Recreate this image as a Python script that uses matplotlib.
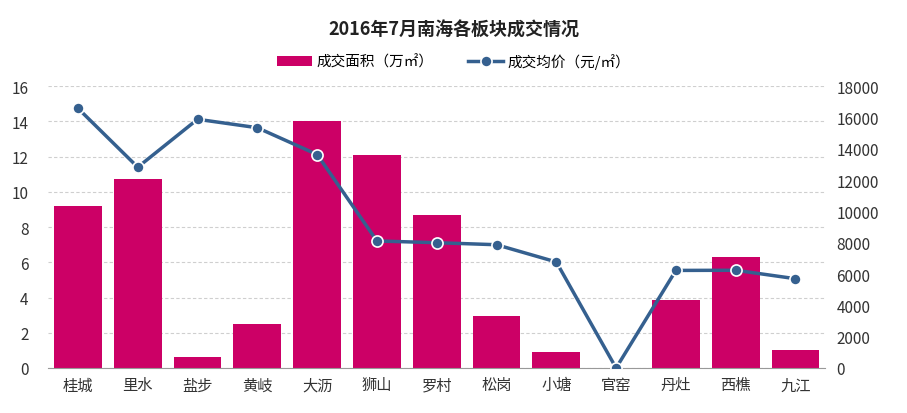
import matplotlib
matplotlib.use("Agg")
import matplotlib.pyplot as plt

plt.rcParams['font.family'] = ['Noto Sans CJK SC', 'DejaVu Sans']

districts = ["桂城", "里水", "盐步", "黄岐", "大沥", "狮山", "罗村", "松岗", "小塘", "官窑", "丹灶", "西樵", "九江"]
area = [9.2, 10.7, 0.6, 2.5, 14.0, 12.1, 8.7, 2.95, 0.9, 0, 3.85, 6.28, 1.0]
price = [16580, 12820, 15880, 15340, 13630, 8110, 8000, 7870, 6770, 0, 6230, 6240, 5700]

bar_color = "#CC0066"
line_color = "#35608F"
text_color = "#333333"

fig = plt.figure(figsize=(9.07, 4.14), dpi=100)
ax = fig.add_axes([0.053, 0.1087, 0.857, 0.681])
ax2 = ax.twinx()

x = list(range(len(districts)))
ax.bar(x, area, width=0.8, color=bar_color, label="成交面积（万㎡）", zorder=2)
ax2.plot(x, price, color=line_color, linewidth=2.5, marker="o", markersize=8,
         markerfacecolor=line_color, markeredgecolor="white", markeredgewidth=1.2,
         label="成交均价（元/㎡）", zorder=3)

ax.set_xlim(-0.5, len(districts) - 0.5)
ax.set_ylim(0, 16)
ax.set_yticks(range(0, 17, 2))
ax2.set_ylim(0, 18000)
ax2.set_yticks(range(0, 18001, 2000))

# dashed horizontal grid, drawn behind bars
ax.grid(axis="y", color="#cfcfcf", linestyle=(0, (3, 2)), linewidth=0.8, zorder=0)
ax.set_axisbelow(True)
ax.set_xticks(x)
ax.set_xticklabels(districts, fontsize=11, color=text_color)

for a in (ax, ax2):
    for s in ("left", "right", "top"):
        a.spines[s].set_visible(False)
    a.tick_params(axis="y", length=0, labelsize=11, labelcolor=text_color)
    a.tick_params(axis="x", length=0)
ax.spines["bottom"].set_color("#999999")
ax2.spines["bottom"].set_visible(False)
ax.tick_params(axis="y", pad=14)
ax2.tick_params(axis="y", pad=8)
ax.tick_params(axis="x", pad=6)

ax.set_zorder(ax2.get_zorder() - 1)
ax2.patch.set_visible(False)

h1, l1 = ax.get_legend_handles_labels()
h2, l2 = ax2.get_legend_handles_labels()
fig.legend(h1 + h2, l1 + l2, loc="center", bbox_to_anchor=(0.5, 0.85), ncol=2,
           frameon=False, fontsize=10.5, handlelength=2.4, columnspacing=2.4,
           handletextpad=0.3)

fig.suptitle("2016年7月南海各板块成交情况", y=0.95, fontsize=13, fontweight="bold", color="#222222")

fig.savefig("out.png", dpi=100)
